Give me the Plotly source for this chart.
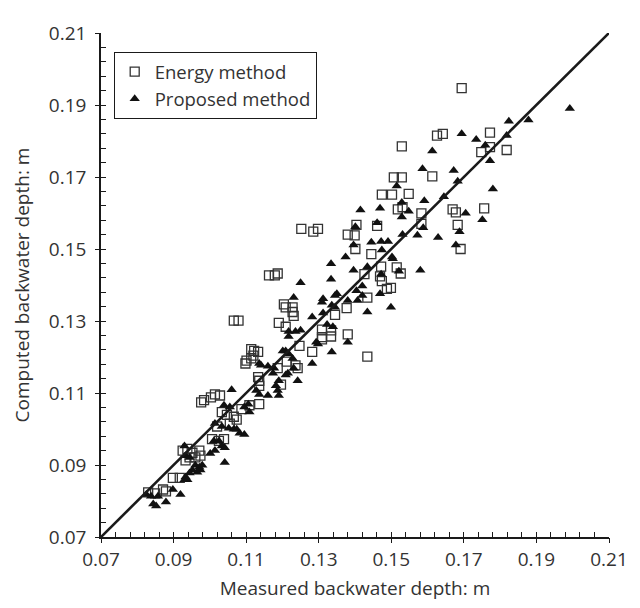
import plotly.graph_objects as go

# Energy method (open squares): measured, computed
energy_measured = [
    0.1694, 0.1772, 0.1626, 0.1642, 0.1529, 0.1772, 0.1748, 0.1818, 0.1507, 0.1529,
    0.1613, 0.1474, 0.1502, 0.1548, 0.1518, 0.1531, 0.1583, 0.1669, 0.1678, 0.1756,
    0.1583, 0.1683, 0.1404, 0.1399, 0.1380, 0.1461, 0.1401, 0.1445, 0.1691, 0.1472,
    0.1515, 0.1526, 0.1426, 0.1474, 0.1488, 0.1499, 0.1434, 0.1469, 0.1252, 0.1285,
    0.1298, 0.1163, 0.1179, 0.1187, 0.1204, 0.1228, 0.1228, 0.1231, 0.1209, 0.1190,
    0.1209, 0.1309, 0.1334, 0.1334, 0.1309, 0.1377, 0.1345, 0.1380, 0.1434, 0.1066,
    0.1079, 0.1282, 0.1247, 0.1236, 0.1242, 0.1212, 0.1187, 0.1196, 0.1114, 0.1122,
    0.1133, 0.1120, 0.1114, 0.1101, 0.1098, 0.1133, 0.1136, 0.1136, 0.1136, 0.1014,
    0.1028, 0.1003, 0.0976, 0.0984, 0.1033, 0.1047, 0.1066, 0.1055, 0.1074, 0.1087,
    0.1020, 0.1006, 0.1025, 0.1039, 0.0925, 0.0938, 0.0952, 0.0971, 0.0944, 0.0960,
    0.0974, 0.0933, 0.0898, 0.0917, 0.0830, 0.0849, 0.0871, 0.0879, 0.1309, 0.1109,
]
energy_computed = [
    0.1947, 0.1823, 0.1815, 0.1820, 0.1785, 0.1783, 0.1769, 0.1775, 0.1699, 0.1699,
    0.1702, 0.1651, 0.1651, 0.1653, 0.1610, 0.1616, 0.1599, 0.1610, 0.1602, 0.1613,
    0.1570, 0.1567, 0.1567, 0.1538, 0.1540, 0.1564, 0.1500, 0.1486, 0.1500, 0.1451,
    0.1449, 0.1432, 0.1430, 0.1411, 0.1389, 0.1392, 0.1365, 0.1424, 0.1556, 0.1548,
    0.1556, 0.1427, 0.1427, 0.1432, 0.1346, 0.1338, 0.1325, 0.1314, 0.1338, 0.1295,
    0.1284, 0.1276, 0.1274, 0.1257, 0.1255, 0.1336, 0.1317, 0.1263, 0.1201, 0.1301,
    0.1301, 0.1214, 0.1231, 0.1177, 0.1169, 0.1187, 0.1169, 0.1123, 0.1222, 0.1217,
    0.1214, 0.1204, 0.1196, 0.1190, 0.1182, 0.1144, 0.1134, 0.1120, 0.1069, 0.1096,
    0.1093, 0.1088, 0.1074, 0.1080, 0.1047, 0.1039, 0.1034, 0.1015, 0.1026, 0.1055,
    0.1007, 0.0972, 0.0967, 0.0972, 0.0940, 0.0945, 0.0934, 0.0940, 0.0921, 0.0921,
    0.0926, 0.0913, 0.0864, 0.0864, 0.0824, 0.0821, 0.0832, 0.0827, 0.1249, 0.1066,
]

# Proposed method (filled triangles): measured, computed
proposed_measured = [
    0.1992, 0.1824, 0.1878, 0.1694, 0.1734, 0.1818, 0.1759, 0.1772, 0.1613, 0.1586,
    0.1672, 0.1683, 0.1780, 0.1515, 0.1645, 0.1415, 0.1469, 0.1529, 0.1529, 0.1548,
    0.1591, 0.1705, 0.1751, 0.1461, 0.1401, 0.1588, 0.1531, 0.1572, 0.1629, 0.1688,
    0.1678, 0.1445, 0.1472, 0.1491, 0.1396, 0.1474, 0.1374, 0.1334, 0.1504, 0.1434,
    0.1396, 0.1580, 0.1334, 0.1420, 0.1404, 0.1350, 0.1312, 0.1469, 0.1502, 0.1472,
    0.1521, 0.1499, 0.1250, 0.1231, 0.1345, 0.1380, 0.1407, 0.1420, 0.1282, 0.1312,
    0.1345, 0.1339, 0.1323, 0.1217, 0.1236, 0.1250, 0.1434, 0.1336, 0.1298, 0.1380,
    0.1309, 0.1336, 0.1293, 0.1217, 0.1209, 0.1201, 0.1282, 0.1242, 0.1215, 0.1228,
    0.1217, 0.1231, 0.1141, 0.1160, 0.1177, 0.1174, 0.1209, 0.1190, 0.1182, 0.1187,
    0.1190, 0.1160, 0.1136, 0.1128, 0.1060, 0.1039, 0.1055, 0.1106, 0.1095, 0.1109,
    0.1014, 0.1033, 0.1052, 0.1066, 0.1074, 0.1082, 0.1095, 0.1011, 0.1025, 0.1033,
    0.1041, 0.1041, 0.1001, 0.1014, 0.0930, 0.0933, 0.0944, 0.0960, 0.0971, 0.0979,
    0.0974, 0.0965, 0.0952, 0.0944, 0.0933, 0.0930, 0.0938, 0.0898, 0.0919, 0.0825,
    0.0838, 0.0857, 0.0844, 0.0852, 0.0879, 0.1136,
]
proposed_computed = [
    0.1890, 0.1855, 0.1858, 0.1820, 0.1804, 0.1815, 0.1788, 0.1745, 0.1772, 0.1723,
    0.1718, 0.1688, 0.1667, 0.1675, 0.1645, 0.1608, 0.1613, 0.1629, 0.1589, 0.1605,
    0.1634, 0.1599, 0.1581, 0.1573, 0.1562, 0.1559, 0.1540, 0.1538, 0.1532, 0.1548,
    0.1511, 0.1519, 0.1521, 0.1521, 0.1511, 0.1497, 0.1478, 0.1459, 0.1473, 0.1451,
    0.1441, 0.1441, 0.1416, 0.1397, 0.1384, 0.1376, 0.1362, 0.1376, 0.1478, 0.1430,
    0.1438, 0.1338, 0.1406, 0.1365, 0.1371, 0.1357, 0.1357, 0.1371, 0.1311, 0.1322,
    0.1338, 0.1284, 0.1290, 0.1271, 0.1271, 0.1274, 0.1325, 0.1214, 0.1236, 0.1241,
    0.1352, 0.1344, 0.1241, 0.1257, 0.1217, 0.1217, 0.1182, 0.1134, 0.1155, 0.1196,
    0.1209, 0.1169, 0.1177, 0.1174, 0.1169, 0.1155, 0.1150, 0.1134, 0.1120, 0.1107,
    0.1093, 0.1093, 0.1096, 0.1107, 0.1109, 0.1066, 0.1061, 0.1069, 0.1061, 0.1047,
    0.1015, 0.1007, 0.1002, 0.0999, 0.0999, 0.0988, 0.0985, 0.0967, 0.0967, 0.0953,
    0.0948, 0.0907, 0.0932, 0.0940, 0.0953, 0.0926, 0.0921, 0.0899, 0.0894, 0.0899,
    0.0886, 0.0880, 0.0886, 0.0878, 0.0867, 0.0859, 0.0859, 0.0832, 0.0818, 0.0818,
    0.0813, 0.0813, 0.0792, 0.0786, 0.0797, 0.1182,
]

# Line of perfect agreement
line_x = [0.07, 0.21]
line_y = [0.07, 0.21]

tick_vals = [0.07, 0.09, 0.11, 0.13, 0.15, 0.17, 0.19, 0.21]
tick_text = ["0.07", "0.09", "0.11", "0.13", "0.15", "0.17", "0.19", "0.21"]
minor_vals = [round(0.07 + 0.004 * i, 3) for i in range(36)]

FONT = "Open Sans"
TXT = "#333333"
FS = 19

fig = go.Figure()

fig.add_trace(go.Scatter(
    x=line_x, y=line_y, mode="lines", xaxis="x2", yaxis="y2",
    line=dict(color="#1a1a1a", width=2.6), showlegend=False, hoverinfo="skip",
))

fig.add_trace(go.Scatter(
    x=energy_measured, y=energy_computed, mode="markers", name="Energy method",
    marker=dict(symbol="square-open", size=9, color="#333333", line=dict(width=1.3, color="#333333")),
))
fig.add_trace(go.Scatter(
    x=proposed_measured, y=proposed_computed, mode="markers", name="Proposed method",
    marker=dict(symbol="triangle-up", size=9, color="#111111", line=dict(width=0)),
))

axis_common = dict(
    range=[0.07, 0.21], tickvals=tick_vals, ticktext=tick_text,
    showgrid=False, zeroline=False, showline=True, linecolor="#1a1a1a", linewidth=1.5,
    ticks="inside", ticklen=5, tickwidth=1.2, tickcolor="#1a1a1a",
    tickfont=dict(family=FONT, size=FS, color=TXT),
    minor=dict(tickvals=minor_vals, ticks="inside", ticklen=5, tickwidth=1, tickcolor="#1a1a1a", showgrid=False),
)
overlay_common = dict(
    range=[0.07, 0.21], tickvals=tick_vals, showticklabels=False,
    ticks="outside", ticklen=5, tickwidth=1.2, tickcolor="#1a1a1a",
    showgrid=False, zeroline=False, showline=False,
)

fig.update_layout(
    width=632, height=600,
    margin=dict(l=93, r=21, t=16, b=64),
    paper_bgcolor="white", plot_bgcolor="white",
    font=dict(family=FONT, size=FS, color=TXT),
    xaxis=dict(**axis_common, ticklabelstandoff=4,
               title=dict(text="Measured backwater depth: m", font=dict(family=FONT, size=FS, color=TXT), standoff=11)),
    yaxis=dict(**axis_common, ticklabelstandoff=9,
               title=dict(text="Computed backwater depth: m", font=dict(family=FONT, size=FS, color=TXT), standoff=14)),
    xaxis2=dict(**overlay_common, overlaying="x", anchor="y2"),
    yaxis2=dict(**overlay_common, overlaying="y", anchor="x2"),
    legend=dict(x=0.025, y=0.962, xanchor="left", yanchor="top",
                bordercolor="#1a1a1a", borderwidth=1, bgcolor="white",
                font=dict(family=FONT, size=18.5, color=TXT), itemsizing="trace",
                tracegroupgap=0, itemwidth=30),
    showlegend=True,
)

fig.write_html("out.html")
